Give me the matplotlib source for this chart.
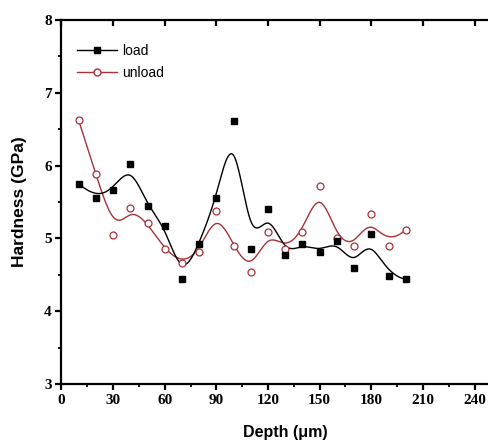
import matplotlib
matplotlib.use("Agg")
import matplotlib.pyplot as plt
from matplotlib.lines import Line2D
from matplotlib.ticker import MultipleLocator
import numpy as np

# DATA
depth = [10, 20, 30, 40, 50, 60, 70, 80, 90, 100,
         110, 120, 130, 140, 150, 160, 170, 180, 190, 200]
load = [5.75, 5.55, 5.67, 6.02, 5.44, 5.17, 4.44, 4.93, 5.55, 6.61,
        4.85, 5.41, 4.77, 4.93, 4.82, 4.97, 4.60, 5.06, 4.48, 4.44]
unload = [6.62, 5.89, 5.05, 5.42, 5.21, 4.85, 4.66, 4.81, 5.38, 4.90,
          4.54, 5.09, 4.86, 5.09, 5.72, 5.00, 4.89, 5.33, 4.90, 5.12]
series_names = ["load", "unload"]

x_ticks = [0, 30, 60, 90, 120, 150, 180, 210, 240]
y_ticks = [3, 4, 5, 6, 7, 8]

# STYLE
LOAD_COLOR = "black"
UNLOAD_COLOR = "#a8323a"
TICK_FONT = "Liberation Serif"
LABEL_FONT = "Liberation Sans"


def bspline(xs, ys, k=3, num=500):
    """Clamped uniform B-spline with the data points as control points."""
    xs = np.asarray(xs, float)
    ys = np.asarray(ys, float)
    n = len(xs)
    knots = np.concatenate([np.zeros(k + 1), np.arange(1, n - k),
                            np.full(k + 1, n - k)]).astype(float)
    t = np.linspace(0, n - k, num)
    B = np.zeros((num, len(knots) - 1))
    for i in range(len(knots) - 1):
        B[:, i] = (knots[i] <= t) & (t < knots[i + 1])
    last = np.where(knots[:-1] < knots[1:])[0][-1]
    B[t == knots[-1], last] = 1.0
    for d in range(1, k + 1):
        nb = np.zeros((num, len(knots) - 1 - d))
        for i in range(len(knots) - 1 - d):
            den1 = knots[i + d] - knots[i]
            den2 = knots[i + d + 1] - knots[i + 1]
            term = np.zeros(num)
            if den1 > 0:
                term += (t - knots[i]) / den1 * B[:, i]
            if den2 > 0:
                term += (knots[i + d + 1] - t) / den2 * B[:, i + 1]
            nb[:, i] = term
        B = nb
    return B @ xs, B @ ys


fig = plt.figure(figsize=(4.88, 4.44), dpi=100)
fig.patch.set_facecolor("white")
# axes run past the right edge: the reference is cropped there
ax = fig.add_axes([0.126, 0.135, 0.917, 0.82])

# smoothed curves
lx, ly = bspline(depth, load)
ux, uy = bspline(depth, unload)
ax.plot(ux, uy, color=UNLOAD_COLOR, lw=1.0, zorder=2)
ax.plot(lx, ly, color=LOAD_COLOR, lw=1.0, zorder=3)

# data points
ax.plot(depth, unload, ls="none", marker="o", ms=5, mfc="white",
        mec=UNLOAD_COLOR, mew=0.9, zorder=4)
ax.plot(depth, load, ls="none", marker="s", ms=5, color=LOAD_COLOR, zorder=5)

ax.set_xlim(0, 260)
ax.set_ylim(3, 8)
ax.set_xticks(x_ticks)
ax.set_yticks(y_ticks)
ax.xaxis.set_minor_locator(MultipleLocator(15))
ax.yaxis.set_minor_locator(MultipleLocator(0.5))

for s in ax.spines.values():
    s.set_linewidth(1.6)

ax.tick_params(axis="both", which="major", direction="out", length=4,
               width=1.6, labelsize=11, pad=3)
ax.tick_params(axis="both", which="minor", direction="out", length=2.5,
               width=1.3)
ax.tick_params(axis="x", which="major", top=True, labeltop=False)
for tk in ax.xaxis.get_major_ticks():
    tk.tick2line.set_marker(3)
    tk.tick2line.set_markersize(4)

for lab in ax.get_xticklabels() + ax.get_yticklabels():
    lab.set_fontfamily(TICK_FONT)
    lab.set_fontweight("bold")

ax.set_xlabel("Depth (\u03bcm)", fontsize=11.5, fontweight="bold",
              fontfamily=LABEL_FONT, labelpad=13)
ax.set_ylabel("Hardness (GPa)", fontsize=12.5, fontweight="bold",
              fontfamily=LABEL_FONT, labelpad=12)

handles = [
    Line2D([], [], color=LOAD_COLOR, lw=1.0, marker="s", ms=5),
    Line2D([], [], color=UNLOAD_COLOR, lw=1.0, marker="o", ms=5,
           mfc="white", mec=UNLOAD_COLOR),
]
ax.legend(handles, series_names, loc="upper left",
          bbox_to_anchor=(0.01, 0.965), frameon=False,
          prop={"family": LABEL_FONT, "size": 10},
          handlelength=2.9, handletextpad=0.35, labelspacing=0.6,
          borderpad=0.3)

fig.savefig("out.png", dpi=100, facecolor="white")
